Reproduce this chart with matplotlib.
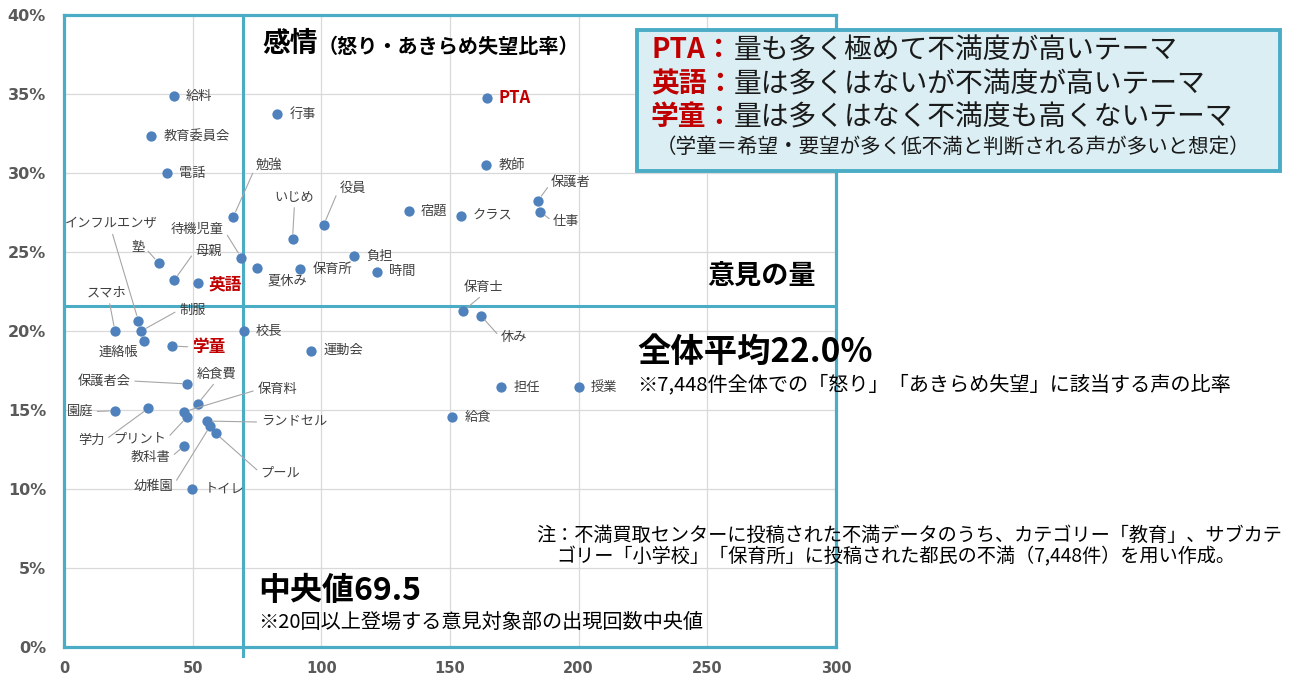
import matplotlib
matplotlib.use("Agg")
import matplotlib.pyplot as plt
from matplotlib.patches import Rectangle

plt.rcParams['font.family'] = ['Noto Sans CJK JP', 'DejaVu Sans']

# 意見対象 / 出現回数 / 感情(怒り・あきらめ失望)比率 %
words = ['給料', '教育委員会', '電話', '行事', 'PTA', '教師', '保護者', '仕事',
         '宿題', 'クラス', '役員', 'いじめ', '勉強', '待機児童', '負担', '時間',
         '保育所', '夏休み', '母親', '塾', '英語', '保育士', '休み',
         'インフルエンザ', '制服', 'スマホ', '連絡帳', '学童', '校長', '運動会',
         '担任', '授業', '給食', '保護者会', '給食費', '保育料', 'プリント',
         '園庭', '学力', '教科書', 'ランドセル', '幼稚園', 'プール', 'トイレ']
counts = [42.8, 34.0, 40.0, 82.9, 164.2, 164.1, 184.2, 185.1,
          134.1, 154.1, 100.9, 88.8, 65.8, 68.9, 112.8, 121.8,
          91.9, 75.0, 42.9, 36.8, 51.9, 155.0, 162.0,
          28.9, 30.0, 19.8, 30.9, 41.9, 69.9, 96.0,
          170.0, 200.1, 150.9, 47.9, 51.9, 46.7, 47.7,
          19.8, 32.8, 46.8, 55.5, 56.8, 58.9, 49.9]
rates = [34.87, 32.34, 29.98, 33.73, 34.75, 30.5, 28.25, 27.55,
         27.6, 27.3, 26.71, 25.82, 27.23, 24.64, 24.75, 23.75,
         23.9, 23.97, 23.23, 24.3, 23.06, 21.25, 20.97,
         20.65, 20.0, 20.0, 19.35, 19.05, 20.0, 18.75,
         16.44, 16.44, 14.54, 16.65, 15.38, 14.89, 14.54,
         14.96, 15.11, 12.74, 14.3, 13.99, 13.53, 9.98]

median_count = 69.5
avg_line = 21.6

highlight = ['PTA', '英語', '学童']

# label placement: offset in px from the dot (right, up), relpos of leader (None = no leader)
label_pos = {
    '勉強': (36, 51, (0, 0.5)),
    'いじめ': (2, 42, (0.5, 0)),
    '役員': (29, 37, (0, 0.5)),
    '待機児童': (-44, 28, (1, 0.5)),
    'インフルエンザ': (-27, 97, (0.5, 0)),
    '塾': (-21, 16, (1, 0.5)),
    '母親': (34, 29, (0, 0.5)),
    'スマホ': (-8, 38, (0.55, 0)),
    '制服': (51, 21, (0, 0.5)),
    '連絡帳': (-25, -11, None),
    '夏休み': (30, -13, None),
    '保護者会': (-83, 3, (1, 0.5)),
    '給食費': (19, 30, (0.5, 0)),
    '保育料': (93, 22, (0, 0.5)),
    '園庭': (-35, -1, (1, 0.5)),
    '学力': (-57, -32, (1, 0.5)),
    'プリント': (-47, -22, (1, 0.5)),
    '教科書': (-34, -12, (1, 0.5)),
    '幼稚園': (-57, -60, (1, 0.5)),
    'ランドセル': (87, -1, (0, 0.5)),
    'プール': (65, -40, (0, 0.5)),
    '保護者': (33, 18, (0, 0.5)),
    '仕事': (26, -10, (0, 0.5)),
    '保育士': (21, 24, (0.5, 0)),
    '休み': (33, -22, (0, 0.5)),
    '学童': (38, -1, (0, 0.5)),
    '英語': (30, -2, None),
}

W, H = 1295, 676
PT = 0.72  # points per pixel at dpi 100
cyan = '#4bacc6'
dot_blue = '#4f81bd'
red = '#c00000'


def fx(x):
    return x / W


def fy(y):
    return 1 - y / H


fig = plt.figure(figsize=(W / 100, H / 100), dpi=100)
ax = fig.add_axes([fx(64), fy(647), (836 - 64) / W, (647 - 15) / H])

ax.set_xlim(0, 300)
ax.set_ylim(0, 40)
ax.set_xticks([0, 50, 100, 150, 200, 250, 300])
ax.set_yticks(range(0, 41, 5))
ax.set_yticklabels([f'{v}%' for v in range(0, 41, 5)])
ax.grid(True, color='#d9d9d9', lw=0.9, zorder=0)
ax.set_axisbelow(True)
for s in ax.spines.values():
    s.set_color(cyan)
    s.set_linewidth(2.3)
ax.tick_params(length=0)
ax.tick_params(axis='x', pad=10)
ax.tick_params(axis='y', pad=13)
for t in ax.get_xticklabels():
    t.set_fontfamily('DejaVu Sans')
    t.set_fontweight('bold')
    t.set_fontsize(10.5)
    t.set_color('#595959')
for t in ax.get_yticklabels():
    t.set_fontfamily('DejaVu Sans')
    t.set_fontweight('bold')
    t.set_fontsize(11.5)
    t.set_color('#595959')

# quadrant lines
ax.plot([median_count, median_count], [-0.6, 39.8], color=cyan, lw=2.2,
        clip_on=False, zorder=2)
ax.axhline(avg_line, color=cyan, lw=2.2, zorder=2)

ax.scatter(counts, rates, s=55, color=dot_blue, zorder=4, linewidths=0)

for w, x, y in zip(words, counts, rates):
    if w in highlight:
        kw = dict(fontsize=12, fontweight='bold', color=red)
    else:
        kw = dict(fontsize=9.5, color='#404040')
    if w in label_pos:
        dx, dy, rel = label_pos[w]
        ha = 'center'
        if w in ('学童', '英語'):
            ha = 'left'
            dx -= 18 if w == '学童' else 19
        arrow = None
        if rel is not None:
            arrow = dict(arrowstyle='-', color='#a6a6a6', lw=0.8,
                         shrinkA=1, shrinkB=4, relpos=rel)
        ax.annotate(w, (x, y), xytext=(dx * PT, dy * PT), textcoords='offset points',
                    ha=ha, va='center', arrowprops=arrow, zorder=5, **kw)
    else:
        ax.annotate(w, (x, y), xytext=(12 * PT, 0), textcoords='offset points',
                    ha='left', va='center', zorder=5, **kw)

# quadrant captions
fig.text(fx(262), fy(44), '感情', fontsize=20, fontweight='bold', va='center')
fig.text(fx(318), fy(46), '（怒り・あきらめ失望比率）', fontsize=14.5,
         fontweight='bold', va='center')
fig.text(fx(816), fy(277), '意見の量', fontsize=19.5, fontweight='bold',
         va='center', ha='right')
fig.text(fx(637), fy(352), '全体平均22.0%', fontsize=24, fontweight='bold', va='center')
fig.text(fx(637), fy(385), '※7,448件全体での「怒り」「あきらめ失望」に該当する声の比率',
         fontsize=14.5, va='center')
fig.text(fx(258), fy(591), '中央値69.5', fontsize=23, fontweight='bold', va='center')
fig.text(fx(258), fy(622), '※20回以上登場する意見対象部の出現回数中央値',
         fontsize=14.5, va='center')
fig.text(fx(536), fy(535),
         '注：不満買取センターに投稿された不満データのうち、カテゴリー「教育」、サブカテ',
         fontsize=13.8, va='center')
fig.text(fx(556), fy(557),
         'ゴリー「小学校」「保育所」に投稿された都民の不満（7,448件）を用い作成。',
         fontsize=13.8, va='center')

# explanation box
fig.patches.append(Rectangle((fx(637), fy(171)), (1280 - 637) / W, (171 - 30) / H,
                             transform=fig.transFigure, facecolor='#daeef3',
                             edgecolor=cyan, lw=2.8, zorder=6))
box_lines = [('PTA：', '量も多く極めて不満度が高いテーマ', 50),
             ('英語：', '量は多くはないが不満度が高いテーマ', 84),
             ('学童：', '量は多くはなく不満度も高くないテーマ', 117)]
for head, body, yy in box_lines:
    fig.text(fx(651), fy(yy), head, fontsize=20, fontweight='bold', color=red,
             va='center', zorder=7)
    fig.text(fx(734), fy(yy), body, fontsize=20, color='#1a1a1a', va='center', zorder=7)
fig.text(fx(656), fy(147), '（学童＝希望・要望が多く低不満と判断される声が多いと想定）',
         fontsize=14.8, color='#1a1a1a', va='center', zorder=7)

fig.savefig('out.png', dpi=100)
